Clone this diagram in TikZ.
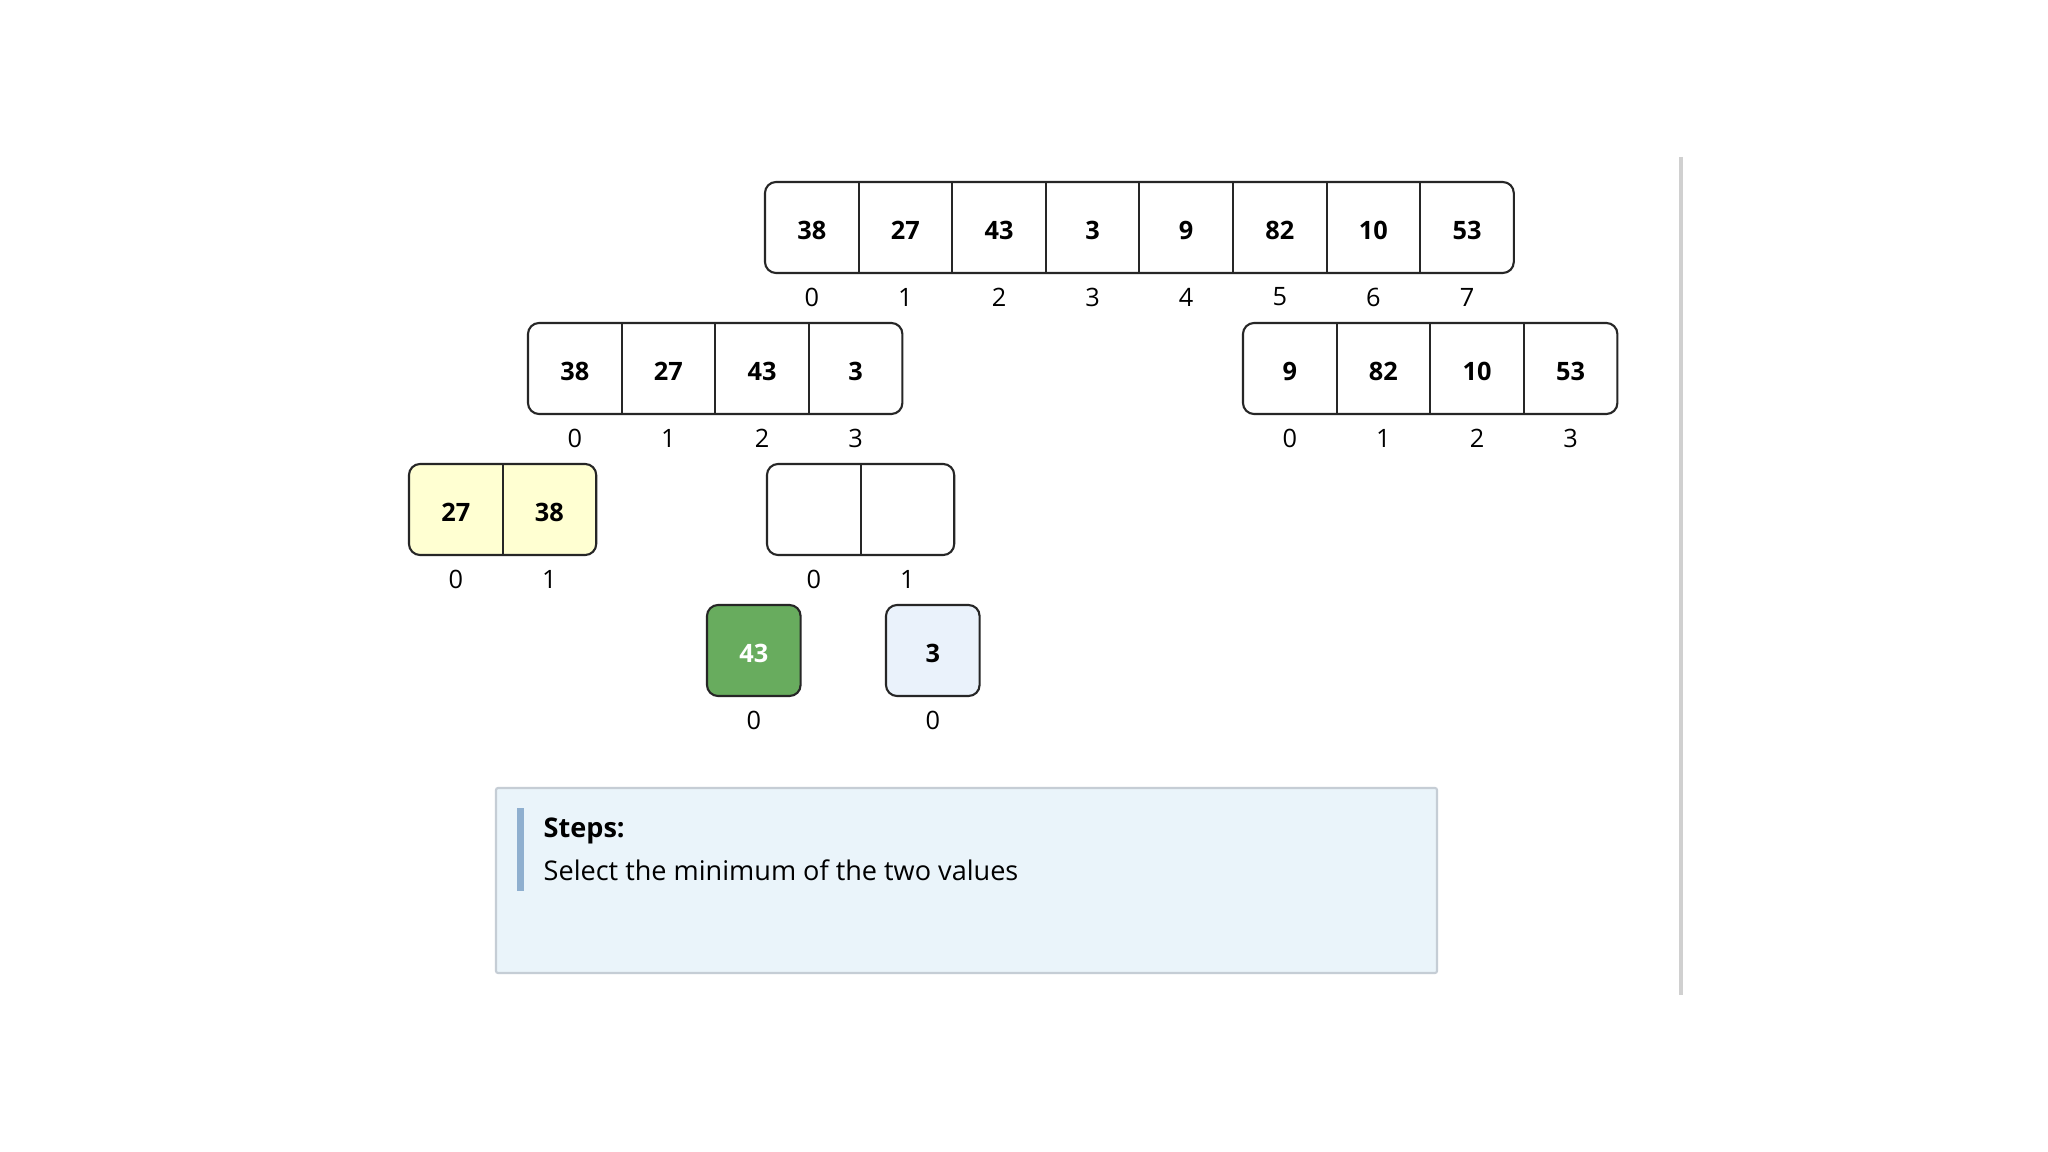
\documentclass[tikz,border=0pt]{standalone}
\usepackage{fontspec}
\setmainfont{Open Sans}
\definecolor{yel}{HTML}{FFFFD2}
\definecolor{grn}{HTML}{68AC5E}
\definecolor{lblue}{HTML}{EAF2FB}
\definecolor{stepfill}{HTML}{EAF4FA}
\definecolor{stepdraw}{HTML}{C5CDD5}
\definecolor{barcol}{HTML}{8FAFCF}
\definecolor{sep}{HTML}{D0D0D0}
\newcommand\myarr[6]{% name, x0, y0, n, fill, values
  \draw[arrbox, fill=#5] (#2,#3) rectangle ++(93.6*#4,91);
  \foreach \v [count=\i from 0] in {#6} {
    \node[cellbox] (#1\i) at (#2+93.6*\i+46.8, #3+48) {\v};
    \node[idx] (#1i\i) at (#2+93.6*\i+46.8, #3+115) {\i};
  }
  \ifnum#4>1
  \foreach \i in {1,...,\numexpr#4-1\relax} {
    \draw[divline] (#2+93.6*\i,#3) -- (#2+93.6*\i,#3+91);
  }
  \fi
}
\tikzset{
  arrbox/.style={draw=black!85, line width=0.6pt, rounded corners=0.11cm},
  divline/.style={draw=black!85, line width=0.6pt},
  cellbox/.style={minimum width=0.936cm, minimum height=0.91cm, inner sep=0pt, font=\fontsize{7.2}{9}\selectfont\bfseries},
  idx/.style={inner sep=0pt, font=\fontsize{7.2}{9}\selectfont},
  steptxt/.style={anchor=west, inner sep=0pt, font=\fontsize{7.7}{9}\selectfont},
}
\begin{document}
\begin{tikzpicture}[x=0.01cm,y=-0.01cm]
\useasboundingbox[fill=white] (0,0) rectangle (2048,1152);
\myarr{t}{765}{182}{8}{white}{38,27,43,3,9,82,10,53}
\myarr{l}{528}{323}{4}{white}{38,27,43,3}
\myarr{r}{1243}{323}{4}{white}{9,82,10,53}
\myarr{y}{409}{464}{2}{yel}{27,38}
\myarr{e}{767}{464}{2}{white}{{},{}}
\myarr{g}{707}{605}{1}{grn}{\textcolor{white}{43}}
\myarr{b}{886}{605}{1}{lblue}{3}
\draw[sep, line width=0.9pt] (1681,157) -- (1681,995);
\draw[draw=stepdraw, fill=stepfill, line width=0.6pt, rounded corners=0.02cm] (496,788) rectangle (1437,973);
\fill[barcol] (517,808) rectangle (524,891);
\node[steptxt, font=\fontsize{7.7}{9}\selectfont\bfseries] (s1) at (543,831) {Steps:};
\node[steptxt] (s2) at (543,870) {Select the minimum of the two values};
\end{tikzpicture}
\end{document}
